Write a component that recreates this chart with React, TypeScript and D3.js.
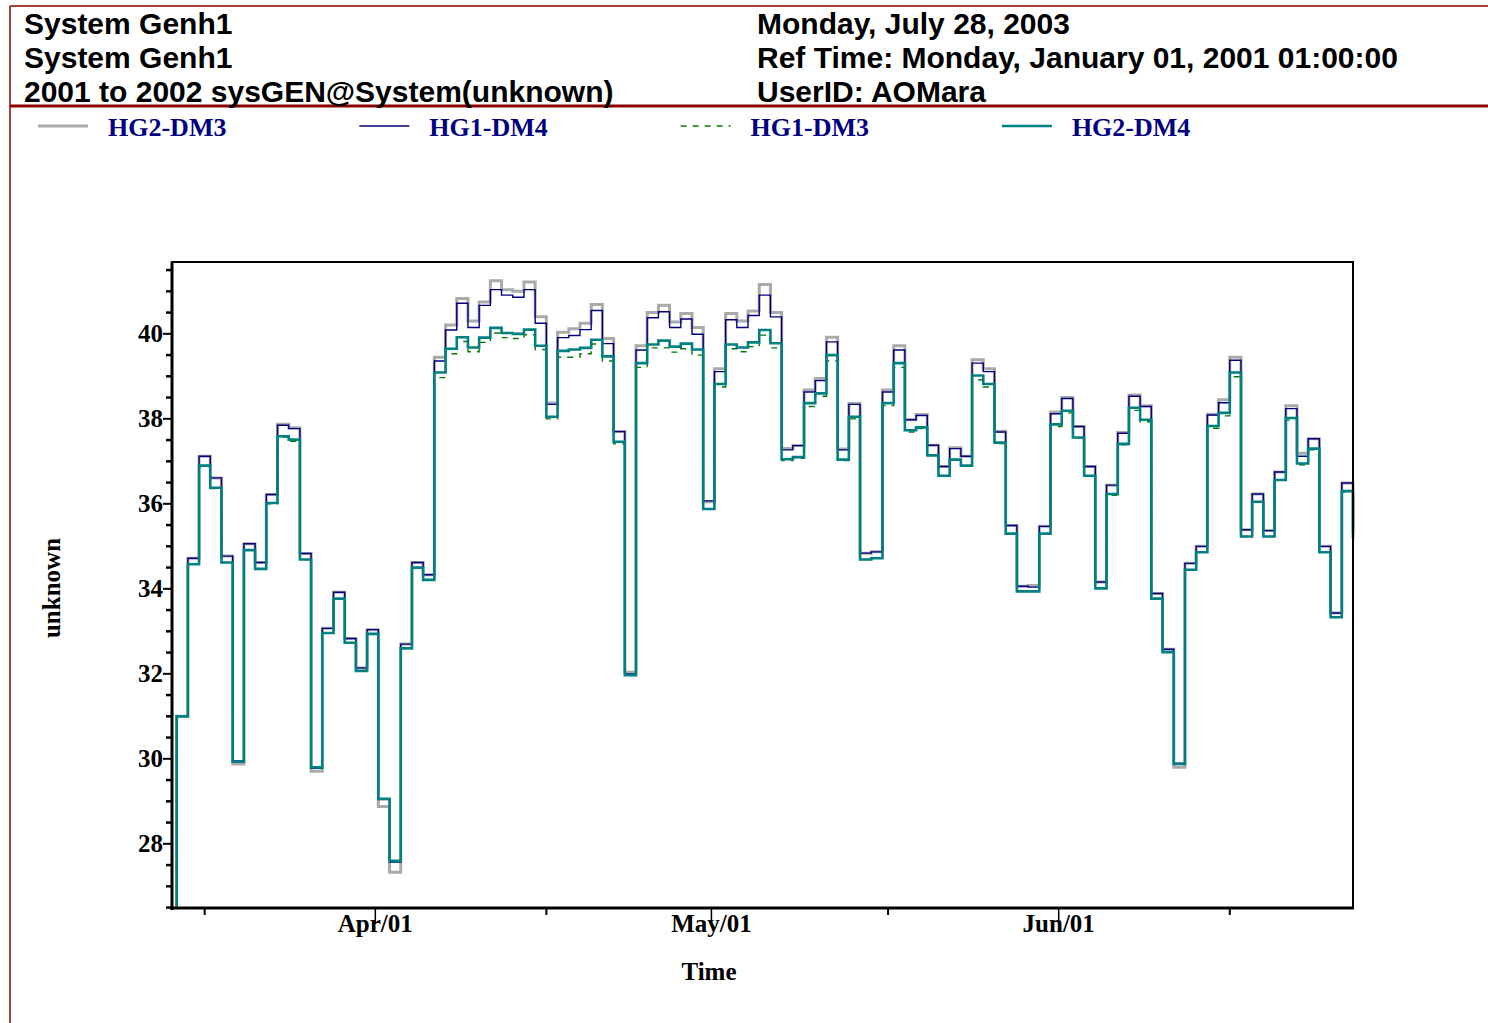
import React from 'react';
import * as d3 from 'd3';

const W = 1488;
const H = 1023;
const plot = { left: 172, top: 262, right: 1353, bottom: 908 };

// daily values, first day = 13 Mar 2001
const firstDay = new Date(2001, 2, 13);

const hg2dm4 = [
  26.3, 31.0, 34.58, 36.9, 36.38, 34.62, 29.93, 34.91, 34.47, 36.02,
  37.59, 37.51, 34.69, 29.8, 32.96, 33.77, 32.73, 32.07, 32.94, 29.06,
  27.6, 32.6, 34.5, 34.21, 39.09, 39.65, 39.92, 39.68, 39.91, 40.14,
  40.02, 40.0, 40.1, 39.72, 38.05, 39.6, 39.63, 39.67, 39.86, 39.47,
  37.46, 31.97, 39.31, 39.75, 39.84, 39.7, 39.77, 39.63, 35.88, 38.82,
  39.75, 39.68, 39.8, 40.09, 39.78, 37.05, 37.1, 38.37, 38.6, 39.5,
  37.04, 38.05, 34.69, 34.72, 38.37, 39.31, 37.73, 37.8, 37.14, 36.66,
  37.04, 36.9, 39.02, 38.82, 37.44, 35.3, 33.94, 33.94, 35.3, 37.87,
  38.19, 37.56, 36.66, 34.01, 36.23, 37.41, 38.26, 37.98, 33.77, 32.51,
  29.88, 34.45, 34.86, 37.83, 38.14, 39.09, 35.23, 36.05, 35.23, 36.56,
  38.02, 36.95, 37.3, 34.86, 33.33, 36.3, 35.18,
];

const hg1dm3 = [
  26.3, 31.0, 34.58, 36.88, 36.36, 34.62, 29.93, 34.91, 34.47, 36.0,
  37.57, 37.47, 34.69, 29.8, 32.96, 33.77, 32.73, 32.07, 32.94, 29.06,
  27.6, 32.6, 34.5, 34.21, 38.97, 39.53, 39.82, 39.58, 39.8, 40.02,
  39.91, 39.89, 39.98, 39.63, 38.0, 39.45, 39.45, 39.53, 39.76, 39.36,
  37.41, 31.97, 39.21, 39.67, 39.67, 39.57, 39.65, 39.5, 35.88, 38.75,
  39.65, 39.58, 39.7, 39.97, 39.67, 37.02, 37.07, 38.29, 38.53, 39.36,
  37.02, 38.0, 34.69, 34.72, 38.31, 39.21, 37.69, 37.77, 37.14, 36.66,
  37.04, 36.9, 38.92, 38.75, 37.42, 35.3, 33.94, 33.94, 35.3, 37.82,
  38.14, 37.54, 36.66, 34.01, 36.2, 37.39, 38.2, 37.93, 33.77, 32.51,
  29.88, 34.45, 34.86, 37.78, 38.07, 38.99, 35.23, 36.05, 35.23, 36.56,
  37.97, 36.92, 37.27, 34.86, 33.33, 36.28, 35.18,
];

const hg2dm3 = [
  26.3, 31.0, 34.72, 37.12, 36.61, 34.77, 29.88, 35.06, 34.62, 36.22,
  37.87, 37.79, 34.83, 29.71, 33.07, 33.92, 32.83, 32.14, 33.04, 28.88,
  27.33, 32.7, 34.62, 34.33, 39.45, 40.21, 40.83, 40.3, 40.75, 41.25,
  41.04, 41.0, 41.22, 40.4, 38.37, 40.04, 40.12, 40.25, 40.69, 39.89,
  37.7, 32.04, 39.72, 40.5, 40.67, 40.28, 40.48, 40.15, 36.05, 39.18,
  40.48, 40.3, 40.54, 41.16, 40.5, 37.3, 37.37, 38.68, 38.95, 39.92,
  37.29, 38.36, 34.84, 34.87, 38.68, 39.72, 37.98, 38.1, 37.38, 36.88,
  37.32, 37.12, 39.39, 39.18, 37.71, 35.49, 34.06, 34.08, 35.47, 38.16,
  38.5, 37.82, 36.88, 34.16, 36.44, 37.68, 38.56, 38.31, 33.89, 32.58,
  29.8, 34.6, 35.0, 38.11, 38.45, 39.45, 35.39, 36.23, 35.37, 36.75,
  38.31, 37.19, 37.53, 35.0, 33.43, 36.49, 35.3,
];

const hg1dm4 = [
  26.3, 31.0, 34.72, 37.12, 36.61, 34.77, 29.95, 35.06, 34.62, 36.22,
  37.85, 37.77, 34.83, 29.78, 33.07, 33.92, 32.83, 32.14, 33.04, 29.04,
  27.57, 32.7, 34.62, 34.33, 39.36, 40.09, 40.72, 40.15, 40.67, 41.04,
  40.91, 40.86, 41.04, 40.25, 38.34, 39.91, 39.96, 40.1, 40.55, 39.77,
  37.7, 32.0, 39.62, 40.38, 40.52, 40.15, 40.35, 39.99, 36.07, 39.11,
  40.33, 40.15, 40.43, 40.91, 40.4, 37.27, 37.37, 38.63, 38.9, 39.81,
  37.27, 38.34, 34.84, 34.87, 38.63, 39.62, 37.98, 38.08, 37.38, 36.88,
  37.3, 37.12, 39.31, 39.11, 37.69, 35.49, 34.06, 34.04, 35.47, 38.12,
  38.48, 37.82, 36.88, 34.16, 36.44, 37.66, 38.53, 38.29, 33.89, 32.58,
  29.9, 34.6, 35.0, 38.09, 38.38, 39.38, 35.39, 36.23, 35.37, 36.75,
  38.24, 37.12, 37.53, 35.0, 33.43, 36.49, 35.3,
];

const headerLeft = ['System Genh1', 'System Genh1', '2001 to 2002 sysGEN@System(unknown)'];
const headerRight = ['Monday, July 28, 2003', 'Ref Time: Monday, January 01, 2001 01:00:00', 'UserID: AOMara'];

const monthTicks = [new Date(2001, 3, 1), new Date(2001, 4, 1), new Date(2001, 5, 1)];
const monthLabels = ['Apr/01', 'May/01', 'Jun/01'];
const yMajor = [28, 30, 32, 34, 36, 38, 40];

// drawing order: gray under navy under green under teal
const series = [
  { name: 'HG2-DM3', values: hg2dm3, color: '#aaaaaa', width: 3, dash: null },
  { name: 'HG1-DM4', values: hg1dm4, color: '#000080', width: 1.4, dash: null },
  { name: 'HG1-DM3', values: hg1dm3, color: '#007a00', width: 1.4, dash: '6,6' },
  { name: 'HG2-DM4', values: hg2dm4, color: '#008080', width: 2.6, dash: null },
];

const serif = '"Liberation Serif", "Times New Roman", serif';
const sans = '"Liberation Sans", Arial, sans-serif';
const frameRed = '#8b0000';

export default function App() {
  const x = d3.scaleTime()
    .domain([new Date(2001, 2, 13, 14), new Date(2001, 5, 27)])
    .range([plot.left, plot.right]);
  const y = d3.scaleLinear().domain([26.49, 41.69]).range([plot.bottom, plot.top]);

  const dates = hg2dm4.map((_, i) => d3.timeDay.offset(firstDay, i));
  const line = d3.line<number>()
    .x((_, i) => x(dates[i]))
    .y(d => y(d))
    .curve(d3.curveStepAfter);

  // mid-month ticks half way between month starts
  const bounds = d3.timeMonth.range(new Date(2001, 2, 1), new Date(2001, 6, 2));
  const midTicks = d3.pairs(bounds).map(([a, b]) => new Date((+a + +b) / 2))
    .filter(d => x(d) > plot.left && x(d) < plot.right);

  const minorY = d3.range(26.5, 41.7, 0.5).filter(v => v % 2 !== 0);

  return (
    <div style={{ position: 'absolute', left: 0, top: 0 }}>
      <svg width={W} height={H} style={{ display: 'block', background: '#fff' }}>
        <defs>
          <clipPath id="plotClip">
            <rect x={plot.left} y={plot.top} width={plot.right - plot.left + 3} height={plot.bottom - plot.top} />
          </clipPath>
        </defs>

        {/* header frame */}
        <line x1={10} x2={W} y1={6} y2={6} stroke={frameRed} strokeWidth={1.5} />
        <line x1={10} x2={10} y1={6} y2={H} stroke={frameRed} strokeWidth={1.5} />
        <line x1={10} x2={W} y1={106} y2={106} stroke={frameRed} strokeWidth={3} />

        {headerLeft.map((t, i) => (
          <text key={'hl' + i} x={24} y={34 + i * 34} fontFamily={sans} fontWeight="bold" fontSize={30} fill="#000">{t}</text>
        ))}
        {headerRight.map((t, i) => (
          <text key={'hr' + i} x={757} y={34 + i * 34} fontFamily={sans} fontWeight="bold" fontSize={30} fill="#000">{t}</text>
        ))}

        {/* legend */}
        {series.map((s, i) => {
          const x0 = 38 + i * 321.3;
          return (
            <g key={s.name}>
              <line x1={x0} x2={x0 + 50} y1={126} y2={126} stroke={s.color} strokeWidth={s.width}
                strokeDasharray={s.dash || undefined} />
              <text x={x0 + 70} y={136} fontFamily={serif} fontWeight="bold" fontSize={26} fill="#000080">{s.name}</text>
            </g>
          );
        })}

        {/* series */}
        <g clipPath="url(#plotClip)">
          {series.map(s => (
            <path key={s.name} d={line(s.values) || ''} fill="none" stroke={s.color} strokeWidth={s.width}
              strokeDasharray={s.dash || undefined} />
          ))}
        </g>

        {/* frame */}
        <rect x={plot.left} y={plot.top} width={plot.right - plot.left} height={plot.bottom - plot.top}
          fill="none" stroke="#000" strokeWidth={2} />
        <line x1={plot.left} x2={plot.left} y1={plot.top} y2={plot.bottom + 2} stroke="#000" strokeWidth={3} />
        <line x1={plot.left - 2} x2={plot.right + 1} y1={plot.bottom} y2={plot.bottom} stroke="#000" strokeWidth={3} />

        {/* y axis */}
        {minorY.map(v => (
          <line key={'my' + v} x1={plot.left - 6} x2={plot.left + 1} y1={y(v)} y2={y(v)} stroke="#000" strokeWidth={2.5} />
        ))}
        {yMajor.map(v => (
          <g key={'y' + v}>
            <line x1={plot.left - 9} x2={plot.left} y1={y(v)} y2={y(v)} stroke="#000" strokeWidth={2} />
            <text x={plot.left - 9} y={y(v) + 8} textAnchor="end" fontFamily={serif} fontWeight="bold" fontSize={25}>{v}</text>
          </g>
        ))}

        {/* x axis */}
        {midTicks.map((d, i) => (
          <line key={'mt' + i} x1={x(d)} x2={x(d)} y1={plot.bottom} y2={plot.bottom + 7} stroke="#000" strokeWidth={2} />
        ))}
        {monthTicks.map((d, i) => (
          <g key={'m' + i}>
            <line x1={x(d) - 3} x2={x(d) - 3} y1={plot.bottom} y2={plot.bottom + 16} stroke="#000" strokeWidth={1.5} />
            <text x={x(d) - 3} y={932} textAnchor="middle" fontFamily={serif} fontWeight="bold" fontSize={25}>{monthLabels[i]}</text>
          </g>
        ))}

        <text x={709} y={980} textAnchor="middle" fontFamily={serif} fontWeight="bold" fontSize={25}>Time</text>
        <text transform="translate(60,588) rotate(-90)" textAnchor="middle" fontFamily={serif} fontWeight="bold" fontSize={25}>unknown</text>
      </svg>
    </div>
  );
}
